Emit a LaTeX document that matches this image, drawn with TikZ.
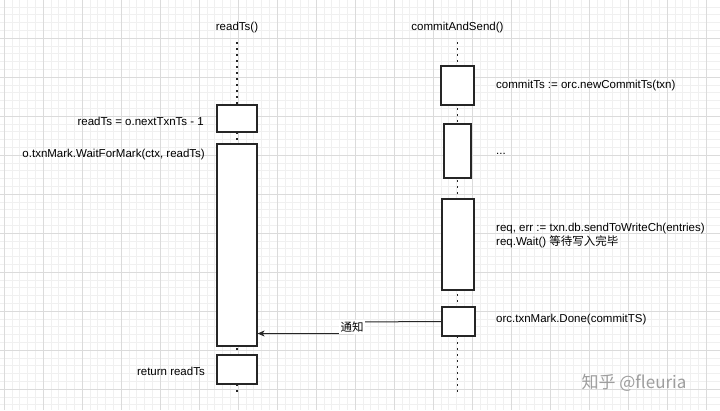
\documentclass[tikz,border=0pt]{standalone}
\usepackage{fontspec}
\setmainfont{Liberation Sans}
\newfontfamily\cjk{Noto Sans CJK SC}
\usetikzlibrary{arrows.meta}
\begin{document}
\begin{tikzpicture}[x=1pt,y=-1pt,
  box/.style={draw=black!85, line width=1.2pt, fill=white, inner sep=0pt},
  life/.style={line width=1.5pt, dash pattern=on 1.5pt off 4.5pt, black!85},
  txt/.style={font=\fontsize{11.5}{13.5}\selectfont, inner sep=0pt},
  msg/.style={line width=1pt, black!85, -{Stealth[length=7pt,width=6pt,inset=2pt]}}]
\useasboundingbox (0,0) rectangle (720,410);
\fill[white] (0,0) rectangle (720,410);
% grid
\foreach \i in {0,...,95} {
  \draw[black!6, line width=0.5pt] ({4+7.8*\i-39},0) -- ({4+7.8*\i-39},410);
}
\foreach \i in {0,...,55} {
  \draw[black!6, line width=0.5pt] (0,{-1+7.8*\i}) -- (720,{-1+7.8*\i});
}
\foreach \i in {0,...,19} {
  \draw[black!14, line width=0.6pt] ({4+39*\i},0) -- ({4+39*\i},410);
}
\foreach \i in {0,...,11} {
  \draw[black!14, line width=0.6pt] (0,{-1+39*\i}) -- (720,{-1+39*\i});
}
% titles
\node[txt] (tl) at (237,28) {readTs()};
\node[txt] (tr) at (457.5,28) {commitAndSend()};
% lifelines
\coordinate (lb) at (237,396);
\coordinate (rb) at (457.5,396);
\draw[life] (237,42) -- (lb);
\draw[life] (457.5,42) -- (rb);
% left boxes
\node[box, minimum width=40pt, minimum height=27pt] (r1) at (237,118.5) {};
\node[box, minimum width=40pt, minimum height=202pt] (r2) at (237,245) {};
\node[box, minimum width=40pt, minimum height=29pt] (r3) at (237,369.5) {};
% right boxes
\node[box, minimum width=33pt, minimum height=39pt] (c1) at (457.5,85.5) {};
\node[box, minimum width=27pt, minimum height=54pt] (c2) at (457.5,151) {};
\node[box, minimum width=32pt, minimum height=91pt] (c3) at (458,244.5) {};
\node[box, minimum width=33pt, minimum height=29pt] (c4) at (458.5,321.5) {};
% left texts
\node[txt, anchor=east] (t1) at (204,121) {readTs = o.nextTxnTs - 1};
\node[txt, anchor=east] (t2) at (205,155) {o.txnMark.WaitForMark(ctx, readTs)};
\node[txt, anchor=east] (t3) at (205,371) {return readTs};
% right texts
\node[txt, anchor=west] (u1) at (496,86) {commitTs := orc.newCommitTs(txn)};
\node[txt, anchor=west] (u2) at (496,154) {...};
\node[txt, anchor=west, align=left, font=\fontsize{11.5}{14}\selectfont] (u3) at (496,236)
  {req, err := txn.db.sendToWriteCh(entries)\\req.Wait() {\cjk 等待写入完毕}};
\node[txt, anchor=west] (u4) at (496,320) {orc.txnMark.Done(commitTS)};
% message
\coordinate (bend) at (353,322);
\coordinate (lvl) at (0,333.5);
\draw[msg] (c4.west) -- (bend) |- (r2.east |- lvl);
\node[txt, fill=white, inner sep=1.5pt, font=\cjk\fontsize{11.5}{13}\selectfont] (lab) at (352,327) {通知};
% watermark
\node[inner sep=0pt, text=black!38, font=\cjk\fontsize{17}{19}\selectfont] (wm) at (634,383) {知乎 @fleuria};
\end{tikzpicture}
\end{document}
